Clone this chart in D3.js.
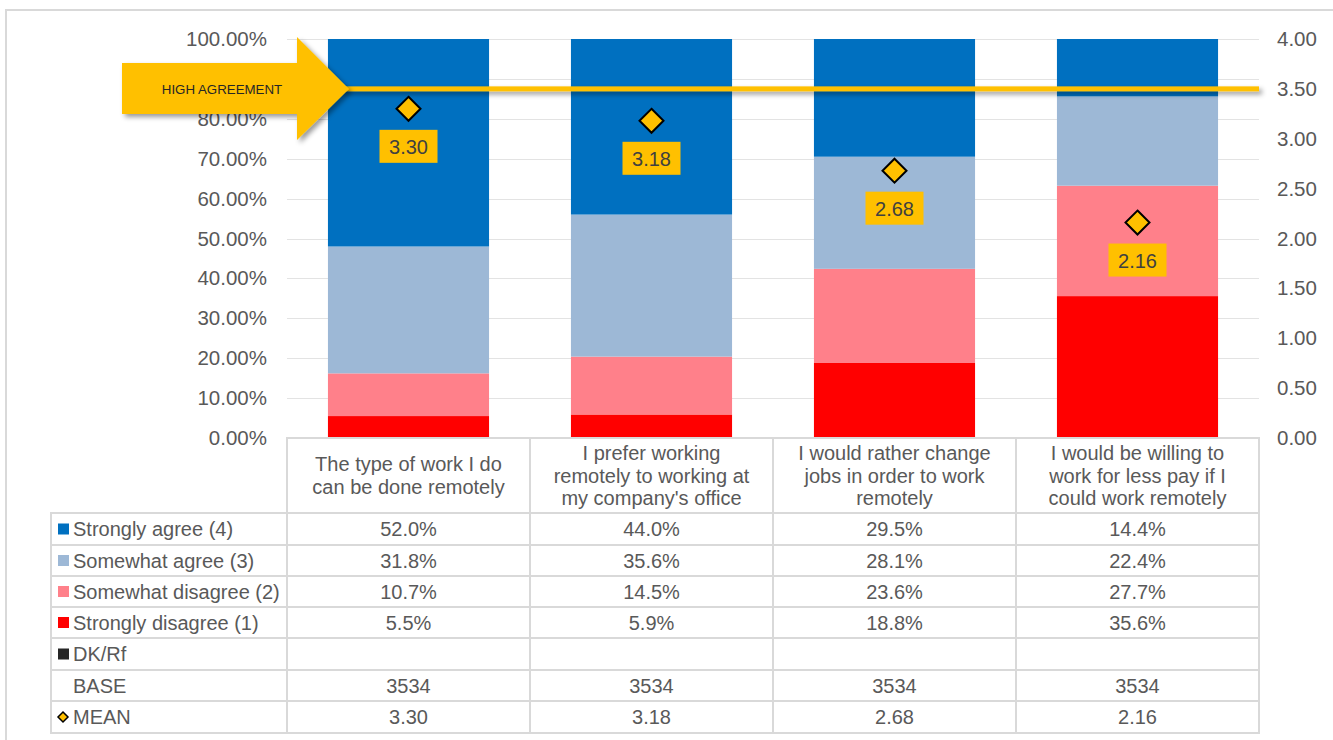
<!DOCTYPE html>
<html>
<head>
<meta charset="utf-8">
<script src="https://cdn.jsdelivr.net/npm/d3@7"></script>
<style>
  body { margin: 0; background: #fff; }
  svg { display: block; font-family: "Liberation Sans", Arial, sans-serif; }
</style>
</head>
<body>
<script>
// data
var categories = ["work", "prefer", "change", "pay"];
var headerLines = [
    ["The type of work I do", "can be done remotely"],
    ["I prefer working", "remotely to working at", "my company's office"],
    ["I would rather change", "jobs in order to work", "remotely"],
    ["I would be willing to", "work for less pay if I", "could work remotely"]
];
var stronglyAgree = [52.0, 44.0, 29.5, 14.4];
var somewhatAgree = [31.8, 35.6, 28.1, 22.4];
var somewhatDisagree = [10.7, 14.5, 23.6, 27.7];
var stronglyDisagree = [5.5, 5.9, 18.8, 35.6];
var dkRf = [null, null, null, null];
var base = [3534, 3534, 3534, 3534];
var means = [3.30, 3.18, 2.68, 2.16];
var highAgreement = 3.5;

var pctTicks = d3.range(0, 1.0001, 0.1);
var meanTicks = d3.range(0, 4.0001, 0.5);

const WIDTH = 1333;
const HEIGHT = 740;
const LEFT = 287, RIGHT = 1259, TOP = 39, BOTTOM = 438;
const TEXT = "#595959";
const LINE = "#d9d9d9";
const YELLOW = "#FFC000";

var seriesKeys = ["sd", "swd", "swa", "sa"];
var seriesColor = { sa: "#0070C0", swa: "#9DB8D6", swd: "#FF808A", sd: "#FF0000" };

var rows = categories.map((c, i) => ({
    cat: c, sa: stronglyAgree[i], swa: somewhatAgree[i],
    swd: somewhatDisagree[i], sd: stronglyDisagree[i]
}));
var stacked = d3.stack().keys(seriesKeys).offset(d3.stackOffsetExpand)(rows);

var x = d3.scaleBand().domain(categories).range([LEFT, RIGHT])
    .paddingInner(0.337).paddingOuter(0.1685);
var colX = d3.scaleBand().domain(categories).range([LEFT, RIGHT]);
var yPct = d3.scaleLinear().domain([0, 1]).range([BOTTOM, TOP]);
var yMean = d3.scaleLinear().domain([0, 4]).range([BOTTOM, TOP]);

var svg = d3.select("body").append("svg")
    .attr("width", WIDTH).attr("height", HEIGHT);

var defs = svg.append("defs");
defs.append("filter").attr("id", "shadow")
    .attr("filterUnits", "userSpaceOnUse")
    .attr("x", 0).attr("y", 0).attr("width", WIDTH).attr("height", HEIGHT)
    .append("feDropShadow")
    .attr("dx", 3).attr("dy", 3).attr("stdDeviation", 2.5)
    .attr("flood-color", "#000").attr("flood-opacity", 0.4);

// outer frame
svg.append("rect")
    .attr("x", 6).attr("y", 10).attr("width", WIDTH + 20).attr("height", HEIGHT + 20)
    .attr("fill", "none").attr("stroke", LINE).attr("stroke-width", 2);

// gridlines
svg.append("g").selectAll("line")
    .data(pctTicks.slice(1))
    .join("line")
    .attr("x1", LEFT).attr("x2", RIGHT)
    .attr("y1", d => Math.round(yPct(d)) + 0.5).attr("y2", d => Math.round(yPct(d)) + 0.5)
    .attr("stroke", "#e3e3e3").attr("stroke-width", 1);

// axes
var leftAxis = svg.append("g")
    .attr("transform", `translate(${LEFT},0)`)
    .call(d3.axisLeft(yPct).tickValues(pctTicks).tickSize(0).tickPadding(20)
        .tickFormat(d => (d * 100).toFixed(2) + "%"));
var rightAxis = svg.append("g")
    .attr("transform", `translate(${RIGHT},0)`)
    .call(d3.axisRight(yMean).tickValues(meanTicks).tickSize(0).tickPadding(18)
        .tickFormat(d => d.toFixed(2)));
[leftAxis, rightAxis].forEach(a => {
    a.select(".domain").remove();
    a.selectAll("text").attr("fill", TEXT).attr("font-size", "20.5px")
        .attr("font-family", "Liberation Sans, Arial, sans-serif");
});

// stacked bars
svg.append("g").selectAll("g")
    .data(stacked)
    .join("g")
    .attr("fill", d => seriesColor[d.key])
    .selectAll("rect")
    .data(d => d)
    .join("rect")
    .attr("x", d => x(d.data.cat))
    .attr("width", x.bandwidth())
    .attr("y", d => yPct(d[1]))
    .attr("height", d => yPct(d[0]) - yPct(d[1]));

// high agreement line + arrow
var yHigh = yMean(highAgreement);
svg.append("rect")
    .attr("x", 340).attr("width", RIGHT - 340)
    .attr("y", yHigh - 2.5).attr("height", 5)
    .attr("fill", YELLOW)
    .attr("filter", "url(#shadow)");
var arrowPts = [[122, yHigh - 26], [297, yHigh - 26], [297, yHigh - 52], [349, yHigh],
    [297, yHigh + 51], [297, yHigh + 25], [122, yHigh + 25]];
svg.append("path")
    .attr("d", d3.line()(arrowPts) + "Z")
    .attr("fill", YELLOW)
    .attr("filter", "url(#shadow)");
svg.append("text")
    .attr("x", 222).attr("y", yHigh + 5)
    .attr("text-anchor", "middle")
    .attr("font-size", "13.3px").attr("fill", "#262626")
    .text("HIGH AGREEMENT");

// mean markers and labels
var meanG = svg.append("g").selectAll("g")
    .data(means)
    .join("g")
    .attr("transform", (d, i) => `translate(${x(categories[i]) + x.bandwidth() / 2},${yMean(d)})`);
meanG.append("path")
    .attr("d", "M0,-12L12,0L0,12L-12,0Z")
    .attr("fill", YELLOW).attr("stroke", "#000").attr("stroke-width", 2)
    .attr("stroke-linejoin", "miter");
meanG.append("rect")
    .attr("x", -29).attr("y", 21).attr("width", 58).attr("height", 33)
    .attr("fill", YELLOW);
meanG.append("text")
    .attr("y", 45).attr("text-anchor", "middle")
    .attr("font-size", "20px").attr("fill", "#404040")
    .text(d => d.toFixed(2));

// data table
var headerTop = BOTTOM, headerBottom = 513;
var rowEdges = [513, 545, 576, 607, 638, 670, 701, 733];
var tableLeft = 51;
var tableRows = [
    { label: "Strongly agree (4)", swatch: seriesColor.sa, vals: stronglyAgree.map(v => v.toFixed(1) + "%") },
    { label: "Somewhat agree (3)", swatch: seriesColor.swa, vals: somewhatAgree.map(v => v.toFixed(1) + "%") },
    { label: "Somewhat disagree (2)", swatch: seriesColor.swd, vals: somewhatDisagree.map(v => v.toFixed(1) + "%") },
    { label: "Strongly disagree (1)", swatch: seriesColor.sd, vals: stronglyDisagree.map(v => v.toFixed(1) + "%") },
    { label: "DK/Rf", swatch: "#262626", vals: dkRf.map(v => v == null ? "" : v.toFixed(1) + "%") },
    { label: "BASE", swatch: null, vals: base.map(String) },
    { label: "MEAN", swatch: "diamond", vals: means.map(v => v.toFixed(2)) }
];

var table = svg.append("g");
// header cells
table.selectAll("rect.hdr")
    .data(categories)
    .join("rect")
    .attr("class", "hdr")
    .attr("x", d => colX(d)).attr("y", headerTop)
    .attr("width", colX.bandwidth()).attr("height", headerBottom - headerTop)
    .attr("fill", "none").attr("stroke", LINE).attr("stroke-width", 2);
table.selectAll("text.hdr")
    .data(categories)
    .join("text")
    .attr("class", "hdr")
    .attr("text-anchor", "middle")
    .attr("font-size", "20px").attr("fill", TEXT)
    .each(function(d, i) {
        var lines = headerLines[i];
        var cy = (headerTop + headerBottom) / 2;
        var lh = 22.5;
        d3.select(this).selectAll("tspan")
            .data(lines)
            .join("tspan")
            .attr("x", colX(d) + colX.bandwidth() / 2)
            .attr("y", (l, j) => cy + (j - (lines.length - 1) / 2) * lh + 7)
            .text(l => l);
    });

// body rows
tableRows.forEach((r, ri) => {
    var y0 = rowEdges[ri], y1 = rowEdges[ri + 1], cy = (y0 + y1) / 2;
    var g = table.append("g");
    g.append("rect")
        .attr("x", tableLeft).attr("y", y0)
        .attr("width", LEFT - tableLeft).attr("height", y1 - y0)
        .attr("fill", "none").attr("stroke", LINE).attr("stroke-width", 2);
    g.selectAll("rect.cell")
        .data(categories)
        .join("rect")
        .attr("class", "cell")
        .attr("x", d => colX(d)).attr("y", y0)
        .attr("width", colX.bandwidth()).attr("height", y1 - y0)
        .attr("fill", "none").attr("stroke", LINE).attr("stroke-width", 2);
    if (r.swatch === "diamond") {
        g.append("path")
            .attr("d", `M63,${cy - 5}L68,${cy}L63,${cy + 5}L58,${cy}Z`)
            .attr("fill", YELLOW).attr("stroke", "#000").attr("stroke-width", 1.5);
    } else if (r.swatch) {
        g.append("rect")
            .attr("x", 58).attr("y", cy - 5.5).attr("width", 11).attr("height", 11)
            .attr("fill", r.swatch);
    }
    g.append("text")
        .attr("x", 73).attr("y", cy + 7)
        .attr("font-size", "20px").attr("fill", TEXT)
        .text(r.label);
    g.selectAll("text.val")
        .data(r.vals)
        .join("text")
        .attr("class", "val")
        .attr("x", (d, i) => colX(categories[i]) + colX.bandwidth() / 2)
        .attr("y", cy + 7)
        .attr("text-anchor", "middle")
        .attr("font-size", "20px").attr("fill", TEXT)
        .text(d => d);
});
</script>
</body>
</html>
